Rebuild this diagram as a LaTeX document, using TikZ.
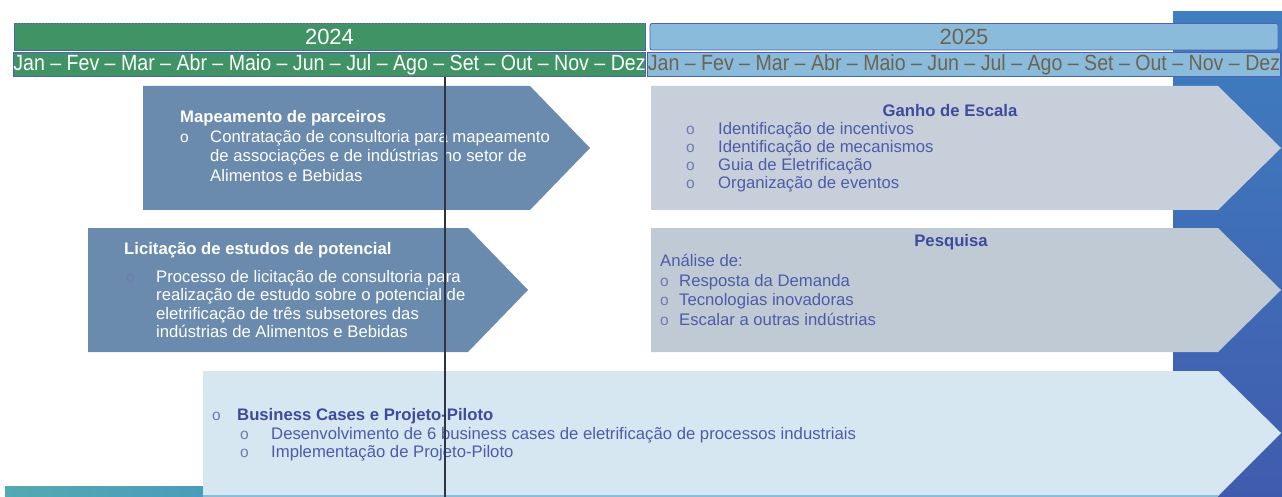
\documentclass[tikz,border=0pt]{standalone}
\usepackage{fontspec}
\setmainfont{Liberation Sans}
\newfontfamily\mesfont[FakeStretch=0.89,Ligatures=TeX]{Liberation Sans}
\usetikzlibrary{positioning}
\definecolor{verde}{HTML}{3F9364}
\definecolor{azulclaro}{HTML}{8ABBDB}
\definecolor{borda}{HTML}{4C63B4}
\definecolor{cinzatxt}{HTML}{6B6452}
\definecolor{escuro}{HTML}{6A8BAD}
\definecolor{cinza}{HTML}{C7CFDB}
\definecolor{cinzab}{HTML}{C0CAD5}
\definecolor{claro}{HTML}{D7E7F2}
\definecolor{tit}{HTML}{3C4B9C}
\definecolor{txt}{HTML}{4D5CA8}
\definecolor{marca}{HTML}{6F7BB0}
\definecolor{faixa}{HTML}{3F7EC0}
\definecolor{faixab}{HTML}{405BAD}
\definecolor{teal}{HTML}{53AAB0}
\definecolor{tealb}{HTML}{4A9BBB}
\definecolor{linha}{HTML}{2E3440}
\newcommand{\corpo}{\fontsize{16.7}{19.5}\selectfont}
\tikzset{
  ano/.style={minimum height=26.5,inner sep=0,font=\fontsize{22}{24}\selectfont,draw=borda,line width=0.8},
  mes/.style={ano,minimum height=24,font=\mesfont\fontsize{22}{23}\selectfont},
  wtxt/.style={inner sep=0,anchor=base west,text=white,font=\corpo},
  wtit/.style={wtxt,font=\corpo\bfseries},
  btxt/.style={wtxt,text=txt},
  btit/.style={wtxt,text=tit,font=\corpo\bfseries},
  bola/.style={wtxt,font=\fontsize{15.5}{16}\selectfont},
}
\begin{document}
\begin{tikzpicture}[x=1pt,y=-1pt]
\useasboundingbox (0,0) rectangle (1282,497);
% fundo
\shade[top color=faixa,bottom color=faixab] (1173,12) rectangle (1282,497);
\shade[left color=teal,right color=tealb] (5,486) rectangle (215,497);

% anos e meses
\node[ano,fill=verde,text=white,minimum width=631] (ano24) at (329.5,36.75) {2024};
\draw[gray,dotted,line width=1] (ano24.north west) -- (ano24.north east);
\node[mes,fill=verde,text=white,minimum width=631] (mes24) at (329.5,64.5)
  {Jan -- Fev -- Mar -- Abr -- Maio -- Jun -- Jul -- Ago -- Set -- Out -- Nov -- Dez};
\node[ano,fill=azulclaro,text=cinzatxt,minimum width=628,rounded corners=2] (ano25) at (964,36.75) {2025};
\node[mes,fill=azulclaro,text=cinzatxt,minimum width=628] (mes25) at (964,64.5)
  {Jan -- Fev -- Mar -- Abr -- Maio -- Jun -- Jul -- Ago -- Set -- Out -- Nov -- Dez};

% setas
\fill[escuro] (143,86) -- (530,86) -- (590,148) -- (530,210) -- (143,210) -- cycle;
\fill[cinza] (651,86) -- (1218,86) -- (1281,148) -- (1218,210) -- (651,210) -- cycle;
\fill[escuro] (88,228) -- (468,228) -- (528,290) -- (468,352) -- (88,352) -- cycle;
\fill[cinzab] (651,228) -- (1218,228) -- (1281,290) -- (1218,352) -- (651,352) -- cycle;
\fill[claro] (203,371) -- (1218,371) -- (1281,433) -- (1218,496) -- (203,496) -- cycle;
\draw[azulclaro,line width=1.2] (203,496) -- (1218,496);

% Mapeamento de parceiros
\node[wtit] (mapa) at (180,123) {Mapeamento de parceiros};
\node[bola] (mapa-o) at (180,142.5) {o};
\foreach \t [count=\i from 0] in {Contratação de consultoria para mapeamento,
  de associações e de indústrias no setor de, Alimentos e Bebidas}
  \node[wtxt] (mapa-\i) at (210,{142.5+19.5*\i}) {\t};

% Licitacao
\node[wtit] (licit) at (124,254) {Licitação de estudos de potencial};
\node[bola,text=marca] (licit-o) at (126,282) {o};
\foreach \t [count=\i from 0] in {Processo de licitação de consultoria para,
  realização de estudo sobre o potencial de, eletrificação de três subsetores das,
  indústrias de Alimentos e Bebidas}
  \node[wtxt] (licit-\i) at (156,{282+18.5*\i}) {\t};

% Ganho de Escala
\node[btit,anchor=base] (ganho) at (950,117) {Ganho de Escala};
\foreach \t [count=\i from 0] in {Identificação de incentivos, Identificação de mecanismos,
  Guia de Eletrificação, Organização de eventos}{
  \node[bola,text=marca] (ganho-o\i) at (686,{134.5+18*\i}) {o};
  \node[btxt] (ganho-\i) at (718,{134.5+18*\i}) {\t};
}

% Pesquisa
\node[btit,anchor=base] (pesq) at (951,247) {Pesquisa};
\node[btxt] (analise) at (660,266) {Análise de:};
\foreach \t [count=\i from 0] in {Resposta da Demanda, Tecnologias inovadoras, Escalar a outras indústrias}{
  \node[bola,text=marca] (pesq-o\i) at (660,{286+19.5*\i}) {o};
  \node[btxt] (pesq-\i) at (679,{286+19.5*\i}) {\t};
}

% Business cases
\node[bola,text=marca] (bc-o) at (212,420) {o};
\node[btit] (bc) at (237,420) {Business Cases e Projeto-Piloto};
\foreach \t [count=\i from 0] in {Desenvolvimento de 6 business cases de eletrificação de processos industriais,
  Implementação de Projeto-Piloto}{
  \node[bola,text=marca] (bc-o\i) at (240,{439.5+18*\i}) {o};
  \node[btxt] (bc-\i) at (271,{439.5+18*\i}) {\t};
}

% hoje
\coordinate (hoje) at (445,497);
\draw[linha,line width=1.8] (mes24.south -| hoje) -- (hoje);
\end{tikzpicture}
\end{document}
